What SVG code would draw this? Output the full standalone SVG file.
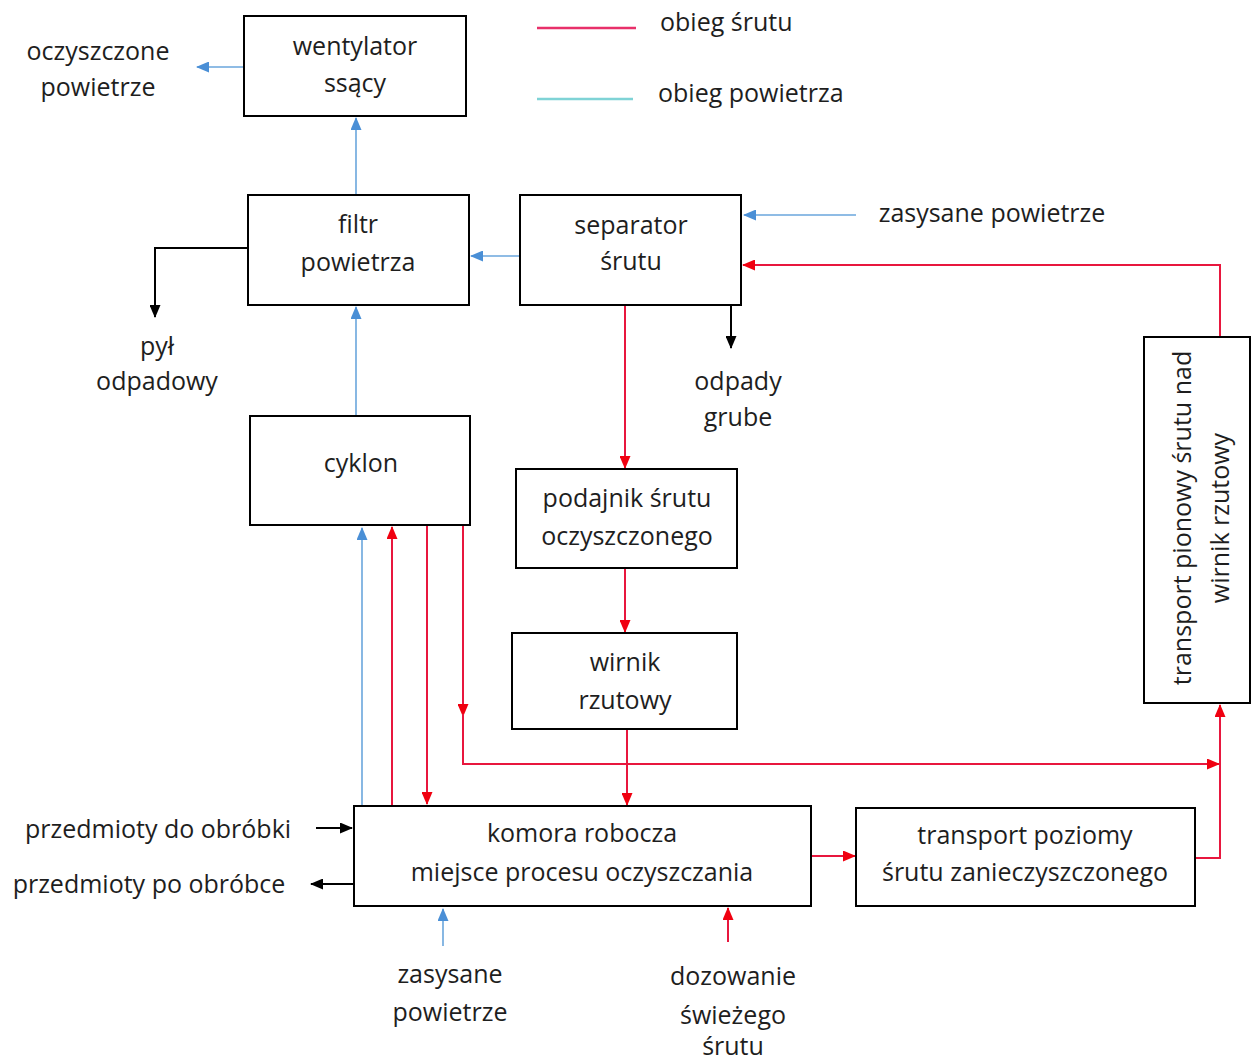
<svg xmlns="http://www.w3.org/2000/svg" width="1251" height="1064" viewBox="0 0 1251 1064">
<style>
text{font-family:"Open Sans","Noto Sans",sans-serif;font-size:25px;fill:#1e1e1e;text-anchor:middle}
.box{fill:#fff;stroke:#000;stroke-width:2}
.r{fill:none;stroke:#e8173e;stroke-width:2}
.b{fill:none;stroke:#6aa6dc;stroke-width:1.6}
.k{fill:none;stroke:#000;stroke-width:2}
</style>
<defs>
<marker id="ar" markerUnits="userSpaceOnUse" markerWidth="13" markerHeight="11" refX="12" refY="5.5" orient="auto"><path d="M0,0 L13,5.5 L0,11 z" fill="#f00010"/></marker>
<marker id="ab" markerUnits="userSpaceOnUse" markerWidth="13" markerHeight="11" refX="12" refY="5.5" orient="auto"><path d="M0,0 L13,5.5 L0,11 z" fill="#4a8fd6"/></marker>
<marker id="ak" markerUnits="userSpaceOnUse" markerWidth="13" markerHeight="11" refX="12" refY="5.5" orient="auto"><path d="M0,0 L13,5.5 L0,11 z" fill="#000"/></marker>
</defs>
<rect width="1251" height="1064" fill="#fff"/>

<g id="legend">
<line x1="537" y1="28" x2="636" y2="28" stroke="#e8306a" stroke-width="2.5"/>
<text x="660" y="31" style="text-anchor:start">obieg śrutu</text>
<line x1="537" y1="99" x2="633" y2="99" stroke="#7fd3d6" stroke-width="2.5"/>
<text x="658" y="102" style="text-anchor:start">obieg powietrza</text>
</g>

<g id="connectors">
<path class="b" d="M244,67 H197" marker-end="url(#ab)"/>
<path class="b" d="M356,195 V118" marker-end="url(#ab)"/>
<path class="b" d="M520,256 H471" marker-end="url(#ab)"/>
<path class="b" d="M356,416 V307" marker-end="url(#ab)"/>
<path class="b" d="M856,215 H744" marker-end="url(#ab)"/>
<path class="b" d="M362,806 V528" marker-end="url(#ab)"/>
<path class="b" d="M443,946 V909" marker-end="url(#ab)"/>

<path class="r" d="M625,305 V468" marker-end="url(#ar)"/>
<path class="r" d="M625,568 V632" marker-end="url(#ar)"/>
<path class="r" d="M627,730 V805" marker-end="url(#ar)"/>
<path class="r" d="M392,806 V527" marker-end="url(#ar)"/>
<path class="r" d="M427,525 V804" marker-end="url(#ar)"/>
<path class="r" d="M463,525 V716" marker-end="url(#ar)"/>
<path class="r" d="M463,714 V764 H1219" marker-end="url(#ar)"/>
<path class="r" d="M811,856 H855" marker-end="url(#ar)"/>
<path class="r" d="M1195,858 H1220 V705" marker-end="url(#ar)"/>
<path class="r" d="M1220,337 V265 H743" marker-end="url(#ar)"/>
<path class="r" d="M728,942 V908" marker-end="url(#ar)"/>

<path class="k" d="M248,248 H155 V317" marker-end="url(#ak)"/>
<path class="k" d="M731,305 V348" marker-end="url(#ak)"/>
<path class="k" d="M316,828 H352" marker-end="url(#ak)"/>
<path class="k" d="M354,884 H311" marker-end="url(#ak)"/>
</g>

<g id="wentylator">
<rect class="box" x="244" y="16" width="222" height="100"/>
<text x="355" y="55">wentylator</text>
<text x="355" y="92">ssący</text>
</g>
<g id="filtr">
<rect class="box" x="248" y="195" width="221" height="110"/>
<text x="358" y="233">filtr</text>
<text x="358" y="271">powietrza</text>
</g>
<g id="separator">
<rect class="box" x="520" y="195" width="221" height="110"/>
<text x="631" y="234">separator</text>
<text x="631" y="270">śrutu</text>
</g>
<g id="cyklon">
<rect class="box" x="250" y="416" width="220" height="109"/>
<text x="361" y="472">cyklon</text>
</g>
<g id="podajnik">
<rect class="box" x="516" y="469" width="221" height="99"/>
<text x="627" y="507">podajnik śrutu</text>
<text x="627" y="545">oczyszczonego</text>
</g>
<g id="wirnik">
<rect class="box" x="512" y="633" width="225" height="96"/>
<text x="625" y="671">wirnik</text>
<text x="625" y="709">rzutowy</text>
</g>
<g id="komora">
<rect class="box" x="354" y="806" width="457" height="100"/>
<text x="582" y="842">komora robocza</text>
<text x="582" y="881">miejsce procesu oczyszczania</text>
</g>
<g id="transport-poziomy">
<rect class="box" x="856" y="808" width="339" height="98"/>
<text x="1025" y="844">transport poziomy</text>
<text x="1025" y="881">śrutu zanieczyszczonego</text>
</g>
<g id="transport-pionowy">
<rect class="box" x="1144" y="337" width="106" height="366"/>
<text transform="translate(1191,518) rotate(-90)">transport pionowy śrutu nad</text>
<text transform="translate(1229,518) rotate(-90)">wirnik rzutowy</text>
</g>

<g id="labels">
<text x="98" y="60">oczyszczone</text>
<text x="98" y="96">powietrze</text>
<text x="157" y="355">pył</text>
<text x="157" y="390">odpadowy</text>
<text x="738" y="390">odpady</text>
<text x="738" y="426">grube</text>
<text x="992" y="222">zasysane powietrze</text>
<text x="158" y="838">przedmioty do obróbki</text>
<text x="149" y="893">przedmioty po obróbce</text>
<text x="450" y="983">zasysane</text>
<text x="450" y="1021">powietrze</text>
<text x="733" y="985">dozowanie</text>
<text x="733" y="1024">świeżego</text>
<text x="733" y="1055">śrutu</text>
</g>
</svg>
